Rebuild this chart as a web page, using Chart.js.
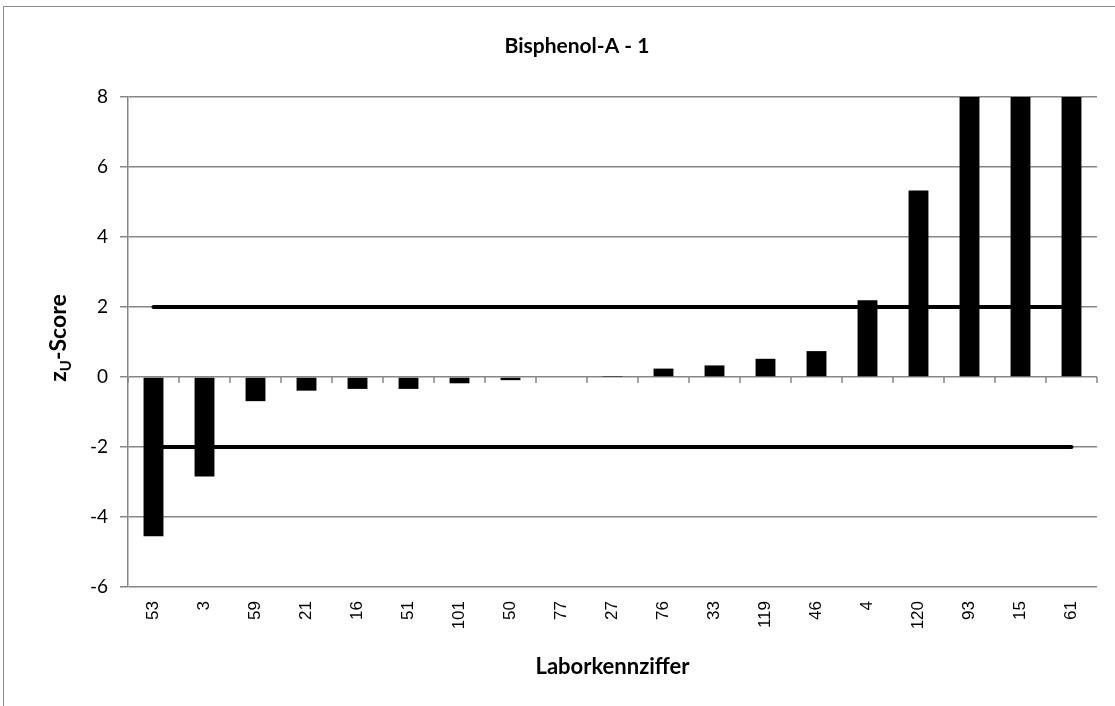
<!DOCTYPE html>
<html>
<head>
<meta charset="utf-8">
<script src="https://cdn.jsdelivr.net/npm/chart.js@4"></script>
<style>
  body { margin: 0; background: #fff; }
  #wrap { position: relative; width: 1115px; height: 706px; overflow: hidden; }
  #rahmen { position: absolute; left: 3px; top: 6px; width: 1200px; height: 800px;
            border-left: 1.5px solid #8c8c8c; border-top: 1.5px solid #8c8c8c; }
  canvas { position: absolute; left: 0; top: 0; }
</style>
</head>
<body>
<div id="wrap">
  <div id="rahmen"></div>
  <canvas id="grafico" width="1115" height="706"></canvas>
</div>
<script>
// Laborkennziffern und z-Scores
const labore = ["53", "3", "59", "21", "16", "51", "101", "50", "77", "27", "76", "33", "119", "46", "4", "120", "93", "15", "61"];
const zScores = [-4.55, -2.84, -0.69, -0.39, -0.34, -0.34, -0.18, -0.09, 0, 0.01, 0.24, 0.33, 0.52, 0.74, 2.19, 5.33, 8, 8, 8];
const grenzeOben = [2, 2, 2, 2, 2, 2, 2, 2, 2, 2, 2, 2, 2, 2, 2, 2, 2, 2, 2];
const grenzeUnten = [-2, -2, -2, -2, -2, -2, -2, -2, -2, -2, -2, -2, -2, -2, -2, -2, -2, -2, -2];
const yTicks = [-6, -4, -2, 0, 2, 4, 6, 8];

const titel = "Bisphenol-A - 1";
const xTitel = "Laborkennziffer";

// Texte und Achsenstriche bei 0
const beschriftung = {
    id: "beschriftung",
    beforeDatasetsDraw(chart) {
        const ctx = chart.ctx;
        const x = chart.scales.x;
        const y = chart.scales.y;
        const y0 = y.getPixelForValue(0);
        ctx.save();
        ctx.strokeStyle = "#868686";
        ctx.lineWidth = 1.5;
        for (let i = 0; i <= labore.length; i++) {
            const px = x.getPixelForValue(i - 0.5);
            ctx.beginPath();
            ctx.moveTo(px, y0);
            ctx.lineTo(px, y0 + 6);
            ctx.stroke();
        }
        ctx.restore();
    },
    afterDraw(chart) {
        const ctx = chart.ctx;
        const area = chart.chartArea;
        ctx.save();
        ctx.fillStyle = "#000";
        ctx.textAlign = "center";
        ctx.textBaseline = "middle";
        ctx.font = "bold 21px Lato";
        ctx.fillText(titel, 577, 46);
        ctx.font = "bold 22px Lato";
        ctx.fillText(xTitel, (area.left + area.right) / 2, 667);

        // y-Achsentitel mit tiefgestelltem U
        const mitte = (area.top + area.bottom) / 2 - 4;
        ctx.translate(66, mitte);
        ctx.rotate(-Math.PI / 2);
        ctx.textAlign = "left";
        ctx.textBaseline = "alphabetic";
        const gross = "bold 23px Lato";
        const klein = "bold 15px Lato";
        ctx.font = gross;
        const wZ = ctx.measureText("z").width;
        const wRest = ctx.measureText("-Score").width;
        ctx.font = klein;
        const wU = ctx.measureText("U").width;
        let pos = -(wZ + wU + wRest) / 2;
        ctx.font = gross;
        ctx.fillText("z", pos, 0);
        pos += wZ;
        ctx.font = klein;
        ctx.fillText("U", pos, 5);
        pos += wU;
        ctx.font = gross;
        ctx.fillText("-Score", pos, 0);
        ctx.restore();
    }
};

const ctx = document.getElementById("grafico").getContext("2d");
const chart = new Chart(ctx, {
    type: "bar",
    data: {
        labels: labore,
        datasets: [
            {
                label: "z-Score",
                data: zScores,
                backgroundColor: "#000",
                barPercentage: 0.39,
                categoryPercentage: 1
            },
            {
                type: "line",
                label: "obere Grenze",
                data: grenzeOben,
                borderColor: "#000",
                borderWidth: 4,
                borderCapStyle: "round",
                pointRadius: 0,
                fill: false
            },
            {
                type: "line",
                label: "untere Grenze",
                data: grenzeUnten,
                borderColor: "#000",
                borderWidth: 4,
                borderCapStyle: "round",
                pointRadius: 0,
                fill: false
            }
        ]
    },
    options: {
        responsive: false,
        animation: false,
        layout: { padding: { top: 97, right: 18, bottom: 0, left: 0 } },
        plugins: {
            legend: { display: false },
            title: { display: false },
            tooltip: { enabled: false }
        },
        scales: {
            x: {
                afterFit(scale) { scale.height = 119; },
                grid: { display: false },
                border: { display: false },
                ticks: {
                    autoSkip: false,
                    minRotation: 90,
                    maxRotation: 90,
                    padding: 6,
                    color: "#000",
                    font: { family: "Liberation Sans", size: 17 }
                }
            },
            y: {
                min: -6,
                max: 8,
                afterFit(scale) { scale.width = 128; },
                afterBuildTicks(scale) { scale.ticks = yTicks.map(v => ({ value: v })); },
                grid: { color: "#868686", lineWidth: 1.5, tickLength: 8 },
                border: { color: "#868686", width: 1.5 },
                ticks: {
                    padding: 12,
                    color: "#000",
                    font: { family: "Lato", size: 19 }
                }
            }
        }
    },
    plugins: [beschriftung]
});
</script>
</body>
</html>
